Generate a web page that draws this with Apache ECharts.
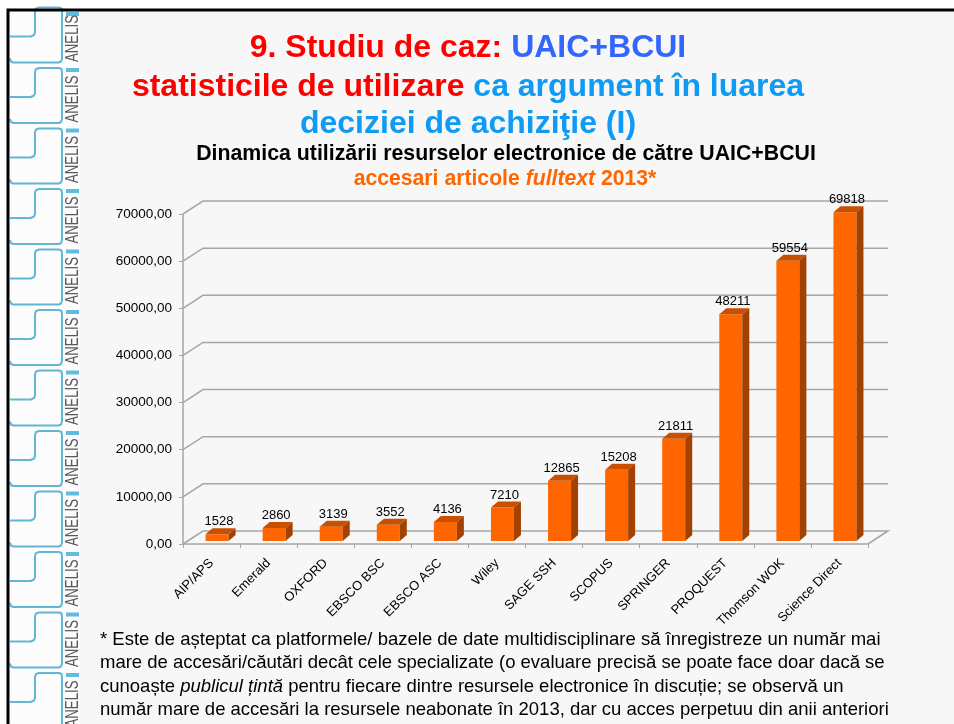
<!DOCTYPE html>
<html>
<head>
<meta charset="utf-8">
<style>
  html, body { margin: 0; padding: 0; background: #fff; }
  #chart { width: 954px; height: 724px; }
</style>
<script src="https://cdn.jsdelivr.net/npm/echarts@6/dist/echarts.min.js"></script>
</head>
<body>
<div id="chart"></div>
<script>
const categories = ['AIP/APS', 'Emerald', 'OXFORD', 'EBSCO BSC', 'EBSCO ASC', 'Wiley', 'SAGE SSH', 'SCOPUS', 'SPRINGER', 'PROQUEST', 'Thomson WOK', 'Science Direct'];
const accesari = [1528, 2860, 3139, 3552, 4136, 7210, 12865, 15208, 21811, 48211, 59554, 69818];
const yTicks = [0, 10000, 20000, 30000, 40000, 50000, 60000, 70000];

const footnote = [
  '* Este de așteptat ca platformele/ bazele de date multidisciplinare să înregistreze un număr mai',
  'mare de accesări/căutări decât cele specializate (o evaluare precisă se poate face doar dacă se',
  'cunoaște {i|publicul țintă} pentru fiecare dintre resursele electronice în discuție; se observă un',
  'număr mare de accesări la resursele neabonate în 2013, dar cu acces perpetuu din anii anteriori'
];

const FONT = '"Liberation Sans", Arial, sans-serif';
const WALL_DX = 20, WALL_DY = -13;   // depth of the back wall
const BAR_DX = 7, BAR_DY = -6;       // depth of one bar
const BAR_W = 23;

const chart = echarts.init(document.getElementById('chart'), null, { renderer: 'canvas' });

// one bold headline style for title rich text
function bold(size, color, italic) {
  return { fontFamily: FONT, fontSize: size, fontWeight: 'bold', fontStyle: italic ? 'italic' : 'normal', color: color };
}

// sidebar logo, repeated down the slide
function sidebar() {
  const items = [];
  const blue = '#62b5d3';
  for (let s = 7.5; s < 724; s += 60.5) {
    items.push({
      type: 'polyline', silent: true, z: 2,
      shape: { points: [[10, s + 29], [31, s + 29], [34, s + 27.5], [35, s + 25], [35, s + 4], [36, s + 1], [39, s], [59, s], [61.5, s + 1], [62, s + 4], [62, s + 51], [61, s + 54], [59, s + 55], [13, s + 55], [11, s + 54], [10, s + 51]] },
      style: { stroke: blue, lineWidth: 2, fill: null }
    });
    items.push({
      type: 'rect', silent: true, z: 2,
      shape: { x: 66, y: Math.max(s, 12), width: 13, height: 4 },
      style: { fill: '#5fbcdc' }
    });
    items.push({
      type: 'text', silent: true, z: 2,
      x: 73.5, y: s + 31, rotation: Math.PI / 2, scaleX: 0.735,
      style: { text: 'ANELIS', font: '18px ' + FONT, fill: '#5a5a5a', align: 'center', verticalAlign: 'middle' }
    });
  }
  return items;
}

const option = {
  backgroundColor: '#ffffff',
  animation: false,
  title: [
    { text: '{r|9. Studiu de caz: }{b|UAIC+BCUI}', left: 468, top: 32, padding: 0, textAlign: 'center',
      textStyle: { rich: { r: bold(32, '#ff0000'), b: bold(32, '#3366ff') } } },
    { text: '{r|statisticile de utilizare }{b|ca argument în luarea}', left: 468, top: 71, padding: 0, textAlign: 'center',
      textStyle: { rich: { r: bold(32, '#ff0000'), b: bold(32, '#0f9bf5') } } },
    { text: 'deciziei de achiziţie (I)', left: 468, top: 108, padding: 0, textAlign: 'center',
      textStyle: bold(32, '#0f9bf5') },
    { text: 'Dinamica utilizării resurselor electronice de către UAIC+BCUI', left: 506, top: 144, padding: 0, textAlign: 'center',
      textStyle: bold(21.3, '#000') },
    { text: '{a|accesari articole }{i|fulltext}{a| 2013*}', left: 505, top: 169, padding: 0, textAlign: 'center',
      textStyle: { rich: { a: bold(21.2, '#ff6600'), i: bold(21.2, '#ff6600', true) } } },
    { text: footnote.join('\n'), left: 100, top: 628, padding: 0,
      textStyle: { fontFamily: FONT, fontSize: 18.5, fontWeight: 'normal', color: '#000', lineHeight: 23.5,
        rich: { i: { fontFamily: FONT, fontSize: 18.5, fontStyle: 'italic', fontWeight: 'normal', color: '#000', lineHeight: 23.5 } } } }
  ],
  graphic: [
    { type: 'rect', silent: true, z: 0, shape: { x: 8, y: 10, width: 960, height: 730 }, style: { fill: '#f7f7f7' } },
    { type: 'rect', silent: true, z: 1, shape: { x: 8, y: 10, width: 72, height: 730 }, style: { fill: '#fcfcfc' } },
    { type: 'rect', silent: true, z: 5, shape: { x: 8, y: 10, width: 960, height: 730 }, style: { fill: null, stroke: '#000', lineWidth: 3 } }
  ].concat(sidebar()),
  grid: { left: 183, right: 86, top: 214, bottom: 180 },
  xAxis: {
    type: 'category',
    data: categories,
    axisLine: { lineStyle: { color: '#a6a6a6', width: 1.5 } },
    axisTick: { show: true, alignWithLabel: false, length: 4, lineStyle: { color: '#a6a6a6' } },
    axisLabel: { rotate: 45, color: '#000', fontFamily: FONT, fontSize: 13, margin: 17, interval: 0 }
  },
  yAxis: {
    type: 'value',
    min: 0,
    max: 70000,
    interval: 10000,
    axisLine: { show: true, lineStyle: { color: '#a6a6a6', width: 1.5 } },
    axisTick: { show: true, length: 4, lineStyle: { color: '#a6a6a6' } },
    axisLabel: { color: '#000', fontFamily: FONT, fontSize: 13.5, margin: 11, formatter: v => v.toFixed(2).replace('.', ',') },
    splitLine: { show: false }
  },
  series: [
    {
      // back wall + floor gridlines
      type: 'custom',
      silent: true,
      z: 1,
      data: yTicks,
      renderItem: function (params, api) {
        const start = api.coord([0, api.value(0)]);
        const end = api.coord([categories.length - 1, api.value(0)]);
        const halfBand = api.size([1, 0])[0] / 2;
        const x0 = start[0] - halfBand, x1 = end[0] + halfBand, y = start[1];
        const pts = [[x0, y], [x0 + WALL_DX, y + WALL_DY], [x1 + WALL_DX, y + WALL_DY]];
        if (api.value(0) === 0) pts.push([x1, y]);
        return { type: 'polyline', shape: { points: pts }, style: { stroke: '#a6a6a6', lineWidth: 1.5, fill: null } };
      },
      encode: { y: 0 }
    },
    {
      type: 'custom',
      z: 3,
      data: accesari,
      encode: { y: 0 },
      renderItem: function (params, api) {
        const top = api.coord([params.dataIndex, api.value(0)]);
        const base = api.coord([params.dataIndex, 0]);
        const x = top[0] + 5.5 - BAR_W / 2, xr = x + BAR_W;
        const yt = top[1] - 2.5, yb = base[1] - 3;
        return {
          type: 'group',
          children: [
            { type: 'rect', shape: { x: x, y: yt, width: BAR_W, height: yb - yt }, style: { fill: '#ff6600' } },
            { type: 'polygon', shape: { points: [[x, yt], [x + BAR_DX, yt + BAR_DY], [xr + BAR_DX, yt + BAR_DY], [xr, yt]] }, style: { fill: '#c85000' } },
            { type: 'polygon', shape: { points: [[xr, yt], [xr + BAR_DX, yt + BAR_DY], [xr + BAR_DX, yb + BAR_DY], [xr, yb]] }, style: { fill: '#a34100' } },
            { type: 'text', x: x + BAR_W / 2 + 2, y: yt + BAR_DY, style: { text: String(api.value(0)), font: '13px ' + FONT, fill: '#000', align: 'center', verticalAlign: 'bottom' } }
          ]
        };
      }
    }
  ]
};

chart.setOption(option);
</script>
</body>
</html>
